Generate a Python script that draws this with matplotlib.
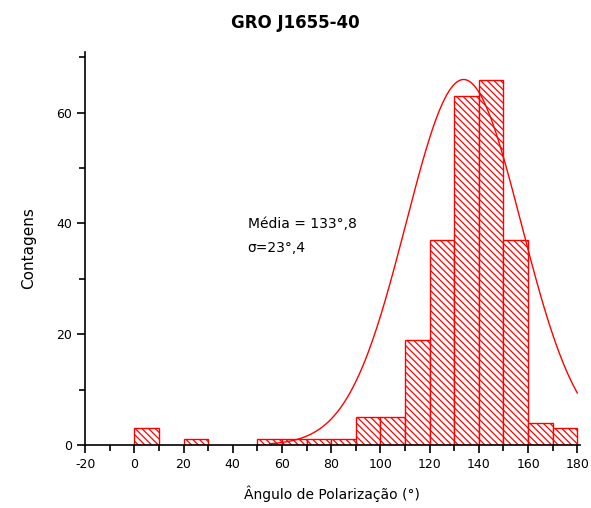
import numpy as np
import matplotlib.pyplot as plt

# histogram of polarization angles (bin edges every 10 degrees)
bin_left = [0, 10, 20, 30, 40, 50, 60, 70, 80, 90, 100, 110, 120, 130, 140, 150, 160, 170]
counts = [3, 0, 1, 0, 0, 1, 1, 1, 1, 5, 5, 19, 37, 63, 66, 37, 4, 3]

# gaussian fit
fit_mean = 133.8
fit_sigma = 23.4
fit_amp = 66.0
fit_x_range = (55, 180)

plt.rcParams['hatch.color'] = 'red'
plt.rcParams['hatch.linewidth'] = 0.9
plt.rcParams['axes.unicode_minus'] = False

fig = plt.figure(figsize=(5.91, 5.08), dpi=100)
ax = fig.add_axes([0.144, 0.124, 0.837, 0.774])

for x0, c in zip(bin_left, counts):
    if c > 0:
        ax.bar(x0, c, width=10, align='edge', facecolor='white',
               edgecolor='red', hatch='\\\\\\\\\\', linewidth=1.0)

xf = np.linspace(fit_x_range[0], fit_x_range[1], 300)
yf = fit_amp * np.exp(-(xf - fit_mean) ** 2 / (2 * fit_sigma ** 2))
ax.plot(xf, yf, color='red', lw=1.0)

ax.set_xlim(-20, 181)
ax.set_ylim(0, 71)
ax.set_xticks(range(-20, 181, 20))
ax.set_xticks(range(-10, 181, 20), minor=True)
ax.set_yticks([0, 20, 40, 60])
ax.set_yticks([10, 30, 50, 70], minor=True)
for s in ['top', 'right']:
    ax.spines[s].set_visible(False)
for s in ['left', 'bottom']:
    ax.spines[s].set_linewidth(1.2)
ax.tick_params(direction='out', length=6, width=1.2, labelsize=9)
ax.tick_params(which='minor', direction='out', length=4, width=1.2)

ax.text(46, 39.2, 'Média = 133°,8', fontsize=10)
ax.text(46, 34.9, 'σ=23°,4', fontsize=10)

ax.set_xlabel('Ângulo de Polarização (°)', fontsize=10, labelpad=10)
ax.set_ylabel('Contagens', fontsize=11, labelpad=14)
fig.text(0.5, 0.955, 'GRO J1655-40', ha='center', va='center',
         fontsize=12, fontweight='bold')

fig.savefig('out.png', dpi=100)
